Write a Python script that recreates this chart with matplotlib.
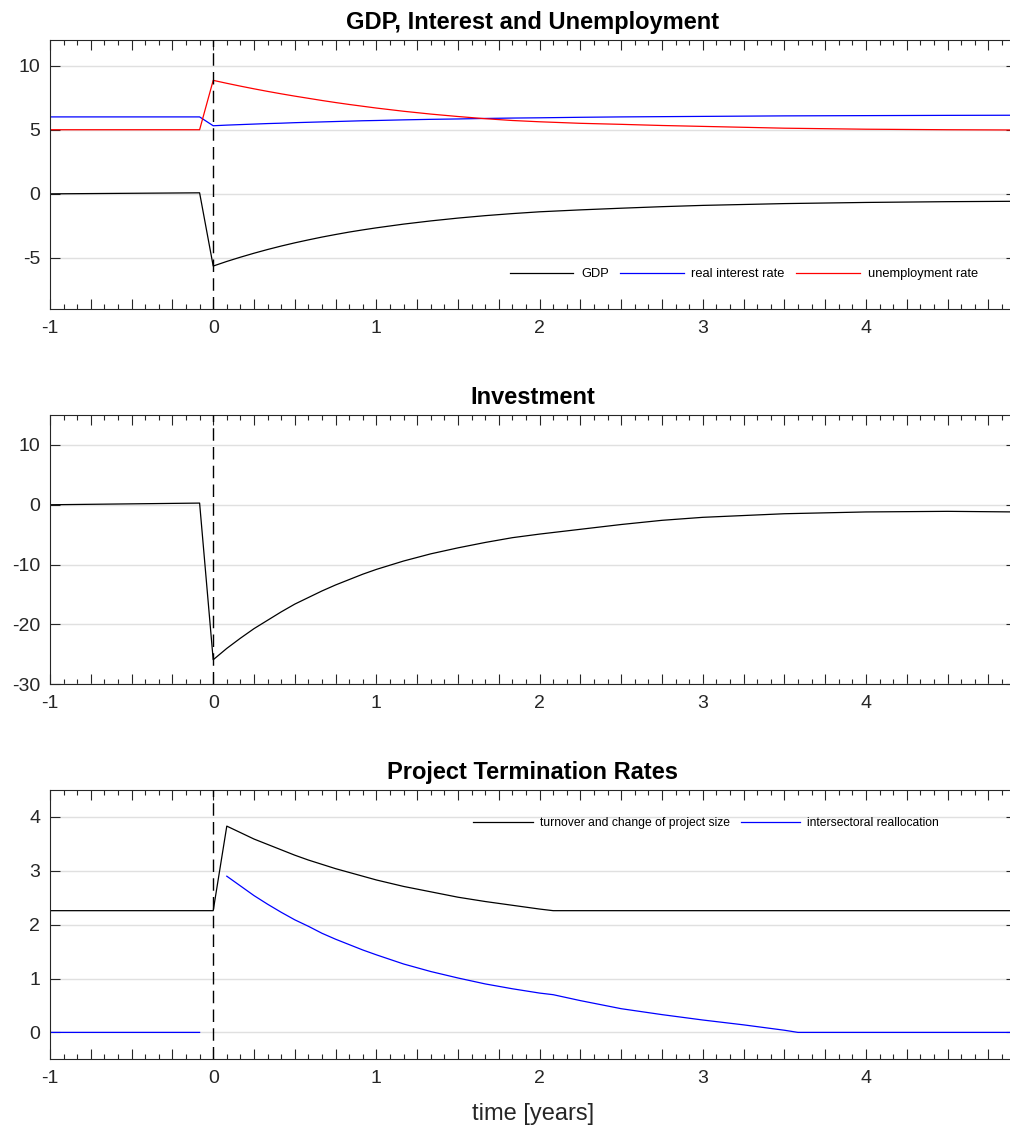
import numpy as np
import matplotlib
matplotlib.use('Agg')
import matplotlib.pyplot as plt
from matplotlib.ticker import FixedLocator, MultipleLocator, FuncFormatter

plt.rcParams['font.family'] = ['Liberation Sans', 'DejaVu Sans']
plt.rcParams['axes.unicode_minus'] = False

# Impulse responses, time in years relative to the shock
t_macro = [-1.0, -0.0833, 0.0, 0.0833, 0.1667, 0.25, 0.3333, 0.4167, 0.5, 0.5833,
           0.6667, 0.75, 0.8333, 0.9167, 1.0, 1.1667, 1.3333, 1.5, 1.6667, 1.8333,
           2.0, 2.25, 2.5, 2.75, 3.0, 3.5, 4.0, 4.5, 4.9167]
gdp = [0.0, 0.08, -5.63, -5.27, -4.94, -4.63, -4.34, -4.07, -3.82, -3.59,
       -3.37, -3.17, -2.98, -2.81, -2.65, -2.36, -2.11, -1.89, -1.70, -1.54,
       -1.40, -1.25, -1.12, -1.00, -0.90, -0.76, -0.67, -0.61, -0.58]
interest = [6.0, 6.0, 5.31, 5.36, 5.40, 5.44, 5.48, 5.51, 5.55, 5.58,
            5.61, 5.64, 5.67, 5.70, 5.72, 5.77, 5.81, 5.84, 5.88, 5.91,
            5.93, 5.97, 6.00, 6.02, 6.04, 6.08, 6.10, 6.12, 6.13]
unemployment = [5.0, 5.0, 8.85, 8.62, 8.40, 8.19, 7.99, 7.80, 7.62, 7.45,
                7.28, 7.12, 6.97, 6.83, 6.69, 6.44, 6.22, 6.03, 5.86, 5.72,
                5.62, 5.50, 5.42, 5.33, 5.26, 5.12, 5.04, 5.00, 4.98]
investment = [0.0, 0.28, -25.9, -24.0, -22.3, -20.7, -19.3, -17.9, -16.6, -15.5,
              -14.4, -13.4, -12.5, -11.6, -10.8, -9.4, -8.2, -7.2, -6.3, -5.5,
              -4.9, -4.1, -3.3, -2.6, -2.1, -1.5, -1.2, -1.1, -1.2]

t_turnover = [-1.0, 0.0, 0.0833, 0.1667, 0.25, 0.3333, 0.4167, 0.5, 0.5833,
              0.6667, 0.75, 0.8333, 0.9167, 1.0, 1.1667, 1.3333, 1.5, 1.6667,
              1.8333, 2.0, 2.0833, 4.9167]
turnover = [2.26, 2.26, 3.83, 3.71, 3.59, 3.49, 3.39, 3.29, 3.20,
            3.12, 3.04, 2.97, 2.90, 2.83, 2.71, 2.61, 2.51, 2.43,
            2.36, 2.29, 2.26, 2.26]

t_realloc = [-1.0, -0.0833, 0.0, 0.0833, 0.1667, 0.25, 0.3333, 0.4167, 0.5,
             0.5833, 0.6667, 0.75, 0.8333, 0.9167, 1.0, 1.1667, 1.3333, 1.5,
             1.6667, 1.8333, 2.0, 2.0833, 2.25, 2.5, 2.75, 3.0, 3.25, 3.5,
             3.5833, 4.9167]
realloc = [0.0, 0.0, np.nan, 2.90, 2.72, 2.54, 2.38, 2.23, 2.09,
           1.97, 1.84, 1.73, 1.63, 1.53, 1.44, 1.27, 1.13, 1.01,
           0.90, 0.81, 0.73, 0.70, 0.59, 0.44, 0.33, 0.23, 0.14, 0.04,
           0.0, 0.0]

quarter_ticks = [-1 + 0.25 * i for i in range(24)]
axcol = '#262626'

fig = plt.figure(figsize=(10.1, 11.32), dpi=100)
left, width, height = 50 / 1010, 965.6 / 1010, 269.3 / 1132
ax1 = fig.add_axes([left, 0.7268, width, height])
ax2 = fig.add_axes([left, 0.3955, width, height])
ax3 = fig.add_axes([left, 0.0642, width, height])


def style_axes(ax, ylim, yticks, title):
    ax.set_xlim(-1, 4.9167)
    ax.set_ylim(*ylim)
    ax.set_yticks(yticks)
    ax.xaxis.set_major_locator(FixedLocator(quarter_ticks))
    ax.xaxis.set_major_formatter(FuncFormatter(
        lambda v, p: '%d' % round(v) if abs(v - round(v)) < 1e-6 else ''))
    ax.xaxis.set_minor_locator(MultipleLocator(1 / 12))
    ax.tick_params(axis='x', which='major', direction='in', length=7, width=0.8,
                   top=True, bottom=True, pad=8, labelsize=14, colors=axcol)
    ax.tick_params(axis='x', which='minor', direction='in', length=3.5, width=0.8,
                   top=True, bottom=True, colors=axcol)
    ax.tick_params(axis='y', which='major', direction='in', length=7, width=0.8,
                   left=True, right=True, pad=7, labelsize=14, colors=axcol)
    for s in ax.spines.values():
        s.set_color(axcol)
        s.set_linewidth(0.8)
    ax.grid(axis='y', color='#e0e0e0', linewidth=1.0)
    ax.set_axisbelow(True)
    ax.axvline(0, color='k', linewidth=1.0, linestyle=(0, (9, 4.5)), zorder=3)
    ax.set_title(title, fontsize=17, fontweight='bold', pad=8)


# GDP, interest and unemployment
ax1.plot(t_macro, gdp, color='k', lw=0.9, label='GDP')
ax1.plot(t_macro, interest, color='#0000ff', lw=0.9, label='real interest rate')
ax1.plot(t_macro, unemployment, color='#ff0000', lw=0.9, label='unemployment rate')
style_axes(ax1, (-9, 12), [-5, 0, 5, 10], 'GDP, Interest and Unemployment')
ax1.legend(loc='center right', bbox_to_anchor=(0.9607, 0.13), ncol=3, frameon=False,
           fontsize=9.3, handlelength=4.9, handletextpad=0.6, columnspacing=0.9,
           borderaxespad=0, borderpad=0)

# Investment
ax2.plot(t_macro, investment, color='k', lw=0.9)
style_axes(ax2, (-30, 15), [-30, -20, -10, 0, 10], 'Investment')

# Project termination rates
ax3.plot(t_turnover, turnover, color='k', lw=0.9,
         label='turnover and change of project size')
ax3.plot(t_realloc, realloc, color='#0000ff', lw=0.9,
         label='intersectoral reallocation')
style_axes(ax3, (-0.5, 4.5), [0, 1, 2, 3, 4], 'Project Termination Rates')
ax3.legend(loc='center right', bbox_to_anchor=(0.9207, 0.876), ncol=2, frameon=False,
           fontsize=8.7, handlelength=4.9, handletextpad=0.6, columnspacing=0.9,
           borderaxespad=0, borderpad=0)
ax3.set_xlabel('time [years]', fontsize=17, color=axcol, labelpad=11)

fig.savefig('out.png', dpi=100)
